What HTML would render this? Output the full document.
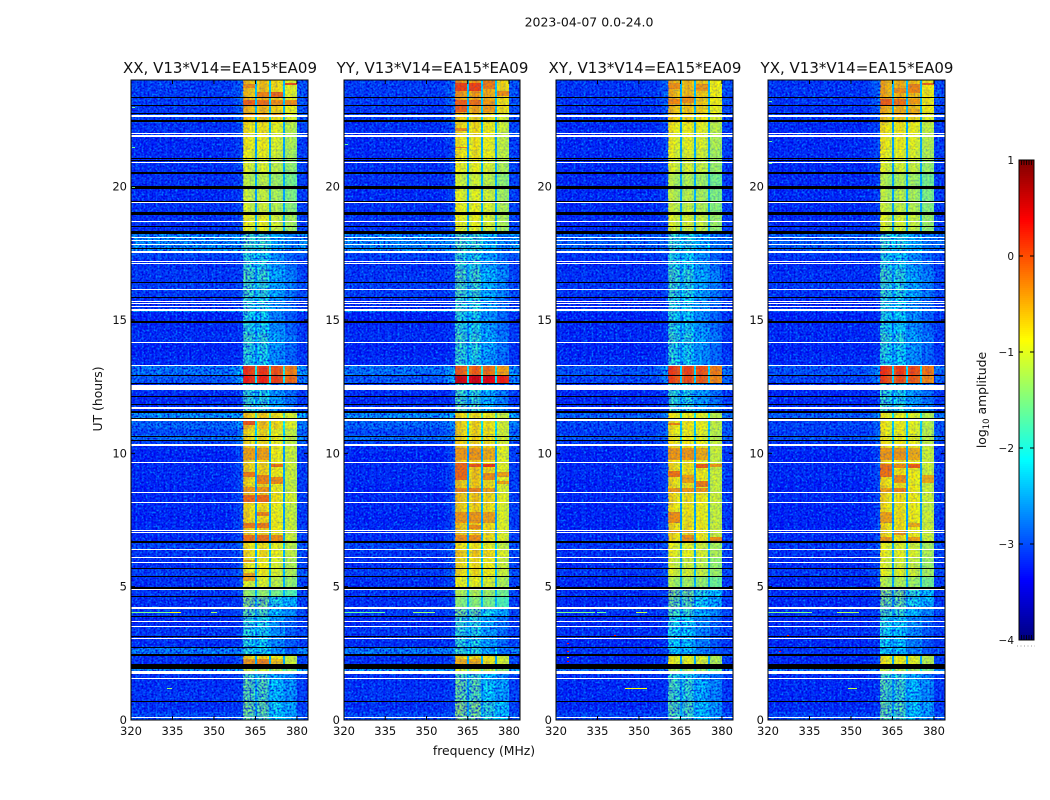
<!DOCTYPE html>
<html>
<head>
<meta charset="utf-8">
<title>2023-04-07 dynamic spectra</title>
<style>
html,body{margin:0;padding:0;background:#fff;}
svg{display:block;font-family:"DejaVu Sans","Liberation Sans",sans-serif;fill:#111;}
.tick{font-size:11.5px;}
.title{font-size:15px;}
.lab{font-size:12.4px;}
</style>
</head>
<body>
<svg id="chart" xmlns="http://www.w3.org/2000/svg" width="1050" height="800" viewBox="0 0 1050 800">
  <defs>
    <filter id="speck-light" x="0" y="0" width="100%" height="100%" color-interpolation-filters="sRGB">
      <feTurbulence type="fractalNoise" baseFrequency="0.5" numOctaves="2" seed="4"/>
      <feColorMatrix type="matrix" values="0 0 0 0 0  0 0 0 0 0.55  0 0 0 0 1  2.6 0 0 0 -1.08"/>
    </filter>
    <filter id="speck-dark" x="0" y="0" width="100%" height="100%" color-interpolation-filters="sRGB">
      <feTurbulence type="fractalNoise" baseFrequency="0.5" numOctaves="2" seed="11"/>
      <feColorMatrix type="matrix" values="0 0 0 0 0  0 0 0 0 0  0 0 0 0 0.85  0 2.8 0 0 -1.1"/>
    </filter>
  </defs>
  <text x="589" y="26.5" text-anchor="middle" style="font-size:12.5px">2023-04-07 0.0-24.0</text>
  <text transform="translate(102,399) rotate(-90)" text-anchor="middle" class="lab">UT (hours)</text>
  <text x="484" y="755" text-anchor="middle" class="lab">frequency (MHz)</text>
  <text transform="translate(986,400) rotate(-90)" text-anchor="middle" class="lab">log<tspan dy="3" style="font-size:8.5px">10</tspan><tspan dy="-3"> amplitude</tspan></text>
  <g id="panels"></g>
  <g id="colorbar"></g>
</svg>
<script>
// ---------- Data ----------
const panelNames = ["XX", "YY", "XY", "YX"];
const baselineLabel = "V13*V14=EA15*EA09";
const freqTicks = [320, 335, 350, 365, 380];
const hourTicks = [0, 5, 10, 15, 20];
const colorTicks = [1, 0, -1, -2, -3, -4];

// Start hour of each time row (the last row ends at 24 h)
const rowStart = [
 0.00,0.30,0.70,1.10,1.50,1.75,1.90,2.00,2.20,2.40,
 2.70,3.10,3.50,3.90,4.20,4.65,4.90,5.40,5.70,6.10,
 6.40,6.65,7.00,7.40,7.80,8.10,8.50,8.80,9.00,9.40,
 9.65,10.00,10.30,10.50,10.70,10.90,11.25,11.55,11.90,12.20,
 12.60,12.90,13.30,13.70,14.10,14.50,14.90,15.30,15.40,15.85,
 16.40,16.90,17.30,17.55,18.24,18.50,18.95,19.40,19.90,20.50,
 20.95,21.40,21.90,22.40,22.75,23.05,23.35,23.70];

// log10 amplitude outside the observing band, parallel and cross hands
const bgParallel = [
 -2.95,-3.15,-3.1,-3.15,-3.1,-2.45,-3.1,-3.15,-3.15,-2.6,
 -3.15,-3.1,-3.2,-3.05,-3.15,-3.1,-3.15,-3.05,-3.15,-3.1,
 -3.0,-3.2,-3.2,-3.25,-3.2,-3.2,-3.25,-3.2,-3.2,-3.2,
 -3.25,-3.2,-3.0,-2.7,-2.95,-2.75,-2.45,-3.15,-3.2,-3.15,
 -2.85,-2.65,-3.2,-3.25,-3.15,-3.2,-3.25,-2.4,-3.15,-3.05,
 -3.1,-3.15,-3.0,-2.5,-3.15,-3.15,-3.15,-3.2,-3.15,-3.15,
 -3.2,-3.2,-3.15,-3.05,-3.1,-3.05,-3.05,-3.05];
const bgCross = [
 -3.0,-3.2,-3.2,-3.2,-3.15,-2.7,-3.15,-3.2,-3.2,-3.1,
 -3.2,-3.15,-3.2,-3.1,-3.2,-3.15,-3.2,-3.1,-3.2,-3.15,
 -3.1,-3.2,-3.25,-3.25,-3.25,-3.2,-3.25,-3.25,-3.2,-3.2,
 -3.25,-3.2,-3.1,-2.9,-3.05,-3.0,-2.8,-3.2,-3.2,-3.2,
 -3.0,-2.9,-3.2,-3.25,-3.2,-3.2,-3.25,-2.8,-3.2,-3.1,
 -3.15,-3.2,-3.1,-2.8,-3.2,-3.2,-3.2,-3.2,-3.2,-3.2,
 -3.2,-3.2,-3.2,-3.1,-3.15,-3.1,-3.1,-3.1];

// log10 amplitude inside the observing band, per row and polarisation
const bandXX = [
 -1.75,-1.7,-1.85,-1.8,-1.95,-1.2,-1.0,-0.8,-0.8,-2.15,
 -2.2,-2.15,-2.1,-1.85,-1.6,-1.45,-1.1,-0.95,-0.95,-0.85,
 -0.9,-0.8,-0.8,-0.82,-0.85,-0.75,-0.82,-0.85,-0.8,-0.8,
 -0.82,-0.8,-0.85,-0.85,-0.85,-0.7,-0.75,-2.0,-2.05,-2.1,
 0.1,0.0,-2.15,-2.1,-2.0,-2.15,-2.2,-2.0,-2.1,-2.0,
 -1.95,-2.1,-2.15,-1.95,-1.05,-1.0,-1.15,-1.2,-1.25,-1.1,
 -1.0,-0.95,-0.9,-0.75,-0.65,-0.65,-0.7,-0.7];
const bandYY = [
 -1.6,-1.55,-1.8,-1.75,-1.9,-1.15,-1.0,-0.8,-0.8,-2.05,
 -2.1,-2.1,-2.05,-1.7,-1.5,-1.3,-1.0,-0.85,-0.85,-0.75,
 -0.9,-0.75,-0.75,-0.75,-0.78,-0.72,-0.75,-0.75,-0.72,-0.72,
 -0.75,-0.72,-0.78,-0.8,-0.8,-0.8,-0.85,-1.9,-2.0,-2.0,
 0.45,-0.2,-2.1,-2.05,-2.0,-2.1,-2.15,-1.95,-2.05,-1.95,
 -1.9,-2.05,-2.1,-1.95,-1.05,-1.0,-1.0,-1.05,-1.15,-1.0,
 -0.9,-0.9,-0.85,-0.8,-0.55,-0.55,-0.5,-0.5];
const bandXY = [
 -1.9,-1.85,-2.0,-1.95,-2.1,-1.35,-1.15,-1.0,-1.0,-2.3,
 -2.3,-2.25,-2.2,-1.95,-1.75,-1.6,-1.35,-1.1,-1.15,-1.0,
 -1.05,-0.85,-0.85,-0.88,-0.9,-0.85,-0.88,-0.88,-0.85,-0.85,
 -0.88,-0.85,-0.9,-0.95,-0.95,-0.9,-0.95,-2.05,-2.1,-2.1,
 -0.1,-0.05,-2.15,-2.15,-2.05,-2.15,-2.2,-2.05,-2.15,-2.05,
 -2.0,-2.15,-2.2,-2.05,-1.15,-1.1,-1.2,-1.25,-1.3,-1.1,
 -1.05,-1.0,-0.95,-0.8,-0.7,-0.65,-0.65,-0.65];
const bandYX = [
 -1.85,-1.8,-1.95,-1.9,-2.0,-1.3,-1.1,-0.95,-0.95,-2.3,
 -2.3,-2.25,-2.2,-1.95,-1.7,-1.55,-1.3,-1.05,-1.1,-1.0,
 -1.05,-0.85,-0.85,-0.85,-0.88,-0.85,-0.85,-0.88,-0.85,-0.85,
 -0.85,-0.85,-0.9,-0.95,-0.95,-0.95,-0.98,-2.0,-2.1,-2.1,
 -0.1,0.0,-2.2,-2.15,-2.05,-2.2,-2.2,-2.05,-2.15,-2.05,
 -2.0,-2.15,-2.2,-2.05,-1.15,-1.1,-1.2,-1.25,-1.3,-1.1,
 -1.0,-0.95,-0.9,-0.75,-0.62,-0.6,-0.6,-0.6];

// Mean offset of each of the four 5 MHz sub-bands, per polarisation
const subOffsetXX = [0.05, 0.05, -0.05, -0.25];
const subOffsetYY = [0.05, 0.05, 0.0, -0.22];
const subOffsetXY = [0.05, 0.03, 0.0, -0.2];
const subOffsetYX = [0.05, 0.03, 0.0, -0.2];
// Extra sub-band shape seen only in the quiet (no source) hours
const quietOffset = [0.12, 0.04, -0.32, -0.4];
const subbandStart = [360.5, 365.6, 370.7, 375.8];
const subbandEnd = [364.75, 369.85, 374.95, 380.05];

// Brighter patches: polarisation, sub-band, start hour, end hour, log10 amplitude
const hotPatches = [
 [0,0,11.05,11.2,-0.05],[0,0,9.75,10.2,-0.45],[0,1,9.75,10.2,-0.45],[0,2,9.5,9.6,-0.2],[0,0,9.1,9.3,-0.25],[0,1,8.85,9.2,-0.3],
 [0,2,8.85,9.1,-0.35],[0,0,8.55,8.75,-0.4],[0,1,8.55,8.75,-0.4],[0,0,8.13,8.43,-0.15],[0,1,8.13,8.43,-0.15],[0,1,7.65,7.8,-0.3],
 [0,0,7.2,7.4,-0.25],[0,1,7.2,7.4,-0.25],[0,0,6.67,6.95,-0.2],[0,1,6.67,6.95,-0.2],[0,2,6.67,6.95,-0.35],
 [0,3,23.8,23.9,-0.05],[0,0,23.7,23.85,-0.35],[0,1,23.35,23.55,-0.3],[0,2,23.35,23.55,-0.15],[0,0,23.05,23.25,-0.1],[0,1,23.05,23.25,-0.2],
 [0,2,23.05,23.25,-0.35],[0,3,23.05,23.25,-0.35],[0,0,22.6,22.75,-0.35],[0,1,22.6,22.75,-0.35],[0,2,22.6,22.75,-0.4],
 [0,0,2.05,2.3,-0.4],[0,1,2.05,2.3,-0.3],[0,2,2.05,2.3,-0.6],[0,0,5.2,5.5,-0.45],[0,0,5.9,6.0,-0.45],
 [1,0,9.75,10.2,-0.4],[1,1,9.75,10.2,-0.4],[1,2,9.75,10.2,-0.5],[1,0,9.0,9.63,-0.15],[1,1,9.47,9.6,-0.05],[1,2,9.47,9.6,0.1],
 [1,2,9.0,9.25,-0.35],[1,3,9.1,9.3,-0.45],[1,3,8.85,8.95,-0.45],[1,0,8.55,8.7,-0.3],[1,1,8.55,8.7,-0.3],[1,2,8.55,8.7,-0.45],
 [1,0,7.4,7.8,-0.4],[1,1,7.4,7.8,-0.4],[1,2,7.4,7.8,-0.45],[1,1,7.15,7.3,-0.35],[1,0,6.67,6.94,-0.35],[1,1,6.67,6.94,-0.35],
 [1,0,23.6,23.9,0.05],[1,1,23.6,23.9,0.05],[1,2,23.65,23.95,-0.25],[1,3,23.4,23.6,-0.35],[1,0,22.8,23.25,-0.1],[1,1,23.05,23.25,-0.2],
 [1,2,22.8,23.25,-0.4],[1,0,22.1,22.2,-0.35],[1,0,21.45,21.5,-0.3],[1,0,2.05,2.3,-0.5],[1,1,2.05,2.3,-0.5],
 [2,0,11.05,11.15,-0.3],[2,0,9.75,10.2,-0.4],[2,1,9.75,10.2,-0.4],[2,2,9.75,10.2,-0.5],[2,2,9.45,9.6,-0.1],[2,3,9.5,9.6,-0.4],
 [2,0,9.1,9.35,-0.2],[2,2,8.75,8.95,-0.25],[2,1,8.9,9.2,-0.45],[2,0,8.55,8.7,-0.4],[2,1,8.55,8.7,-0.4],[2,2,8.55,8.7,-0.4],
 [2,0,7.4,7.8,-0.35],[2,0,7.0,7.12,-0.3],[2,1,7.0,7.12,-0.4],[2,1,6.67,6.95,-0.35],[2,3,6.67,6.85,-0.35],
 [2,0,23.65,23.9,-0.35],[2,1,23.15,23.4,-0.35],[2,2,23.6,23.85,-0.4],[2,0,23.1,23.3,-0.3],
 [3,0,9.75,10.2,-0.4],[3,1,9.75,10.2,-0.4],[3,2,9.75,10.2,-0.5],[3,0,9.1,9.6,-0.2],[3,1,9.45,9.6,-0.35],[3,2,9.45,9.6,-0.1],
 [3,1,8.9,9.2,-0.35],[3,3,8.9,9.2,-0.5],[3,1,8.55,8.7,-0.3],[3,0,8.55,8.7,-0.45],[3,0,7.4,7.8,-0.45],[3,2,7.25,7.4,-0.5],
 [3,1,6.95,7.1,-0.4],[3,0,6.67,6.85,-0.4],[3,2,6.67,6.85,-0.45],
 [3,0,23.05,23.3,-0.1],[3,1,23.05,23.3,-0.2],[3,2,23.1,23.3,-0.4],[3,2,23.5,23.85,-0.3],[3,1,23.5,23.7,-0.35],[3,3,23.8,23.9,-0.15],
 [3,1,22.7,22.9,-0.5],[3,2,22.7,22.9,-0.5]
];

// Per-channel bandpass structure (channel width 0.85 MHz, first channel at 319.7 MHz)
const channelOffset = [
  0.06,-0.04,0.08,0.02,-0.06,0.05,-0.08,0.03,0.07,-0.03,
 -0.07,0.04,0.09,-0.02,-0.05,0.06,0.02,-0.09,0.04,0.08,
 -0.04,0.01,-0.07,0.05,0.03,-0.06,0.07,-0.02,0.04,-0.08,
  0.03,0.06,-0.05,0.02,-0.03,0.08,-0.06,0.04,0.01,-0.07,
  0.05,0.02,-0.04,0.06,0.03,0.05,0.08,0.12,
  0.1,0.12,0.05,0.0,-0.04,-0.02,
 -0.08,0.05,0.1,0.06,-0.06,0.04,
 -0.02,0.06,0.03,-0.04,-0.06,0.0,
 -0.04,0.02,0.04,-0.03,-0.08,
  0.1,0.14,0.12,0.1,0.12,0.08];
const channelShoulder = [
 0,0,0,0,0,0,0,0,0,0, 0,0,0,0,0,0,0,0,0,0,
 0,0,0,0,0,0,0,0,0,0, 0,0,0,0,0,0,0,0,0,0,
 0,0,0.02,0.05,0.09,0.14,0.2,0.28,
 0,0,0,0,0,0, 0,0,0,0,0,0, 0,0,0,0,0,0, 0,0,0,0,0,
 0.1,0.08,0.06,0.05,0.04,0.04];

// Flagged (no data / zero) time ranges
const whiteFlagHour = [22.61,21.99,21.88,20.90,19.37,18.69,18.09,17.96,17.81,17.53,17.19,17.10,16.14,15.69,15.59,15.50,15.32,14.12,13.27,12.36,11.68,11.23,10.26,9.63,8.50,8.12,7.10,7.00,6.36,6.09,5.87,4.86,4.18,3.66,3.47,3.02,1.72,1.52,0.09];
const whiteFlagSpan = [0.07,0.04,0.04,0.04,0.04,0.04,0.04,0.04,0.04,0.04,0.04,0.04,0.04,0.04,0.04,0.04,0.08,0.04,0.04,0.22,0.04,0.04,0.1,0.04,0.04,0.04,0.04,0.04,0.04,0.04,0.04,0.04,0.04,0.04,0.04,0.04,0.1,0.04,0.04];
const blackFlagHour = [23.33,23.04,22.74,22.42,21.05,20.98,20.49,19.93,19.42,18.95,18.48,18.24,17.65,16.40,15.82,14.90,12.90,12.60,12.13,11.83,11.51,11.27,10.60,10.48,6.62,5.68,5.38,4.93,4.63,3.88,3.13,2.69,2.39,1.91,0.66];
const blackFlagSpan = [0.035,0.035,0.035,0.09,0.035,0.035,0.07,0.09,0.035,0.09,0.035,0.1,0.05,0.035,0.035,0.06,0.035,0.035,0.035,0.035,0.09,0.06,0.035,0.035,0.11,0.035,0.035,0.06,0.035,0.035,0.035,0.035,0.07,0.18,0.035];

// Narrow-band interference: polarisation index, hour, start and end MHz, level
const rfiPanel = [0,0,0,0,1,1,2,2,2,2,3,3,3,2,2,2,2,2,3,3,0,0,0,1,3,3,3];
const rfiHour  = [4.06,4.06,4.06,1.2,4.06,4.06,4.06,4.06,4.06,1.2,4.06,4.06,1.2,3.2,2.2,2.35,2.9,2.6,2.6,3.2,23.0,21.5,20.0,21.6,23.2,21.7,20.9];
const rfiFrom  = [320,334,349,333,320,345,320,335,349,345,320,345,349,341,324,324,324,324,324,327,320.5,320.5,320.5,320.5,320.5,320.5,320.5];
const rfiTo    = [334,338,351,335,335,353,334,338,353,353,336,353,352,341.7,324.7,324.7,324.7,324.7,324.7,327.7,321.5,321.5,321.5,321.5,321.5,321.5,321.5];
const rfiLevel = [-1.5,-0.9,-1.3,-1.4,-1.6,-1.4,-1.5,-1.6,-1.2,-0.9,-1.5,-1.3,-1.2,0.3,0.4,-1,0.3,0.3,0.3,0.2,-1.6,-1.6,-1.6,-1.6,-1.6,-1.6,-1.6];

// Colour scale limits
const colorMin = -4, colorMax = 1;

// ---------- Geometry and scales ----------
const SVGNS = "http://www.w3.org/2000/svg";
const panelLeft = [131, 344, 556, 768];
const panelRight = [308, 520, 733, 945];
const plotTop = 80, plotBottom = 720;
const freqMin = 320, freqMax = 384, hourMin = 0, hourMax = 24;
const channelWidth = 0.85, channelFirst = 319.7;
const quietLimit = -1.5;
const panelBands = [bandXX, bandYY, bandXY, bandYX];
const panelSubs = [subOffsetXX, subOffsetYY, subOffsetXY, subOffsetYX];
const panelBgs = [bgParallel, bgParallel, bgCross, bgCross];

function xScale(p, f){ return panelLeft[p] + (f - freqMin) * (panelRight[p] - panelLeft[p]) / (freqMax - freqMin); }
function yScale(h){ return plotBottom - (h - hourMin) * (plotBottom - plotTop) / (hourMax - hourMin); }
function cScale(v){ return 640 - (v - colorMin) * 480 / (colorMax - colorMin); }

function jet(v){
  const t = Math.max(0, Math.min(1, (v - colorMin) / (colorMax - colorMin)));
  const ramp = (x) => Math.max(0, Math.min(1, x));
  const r = ramp(Math.min(4 * t - 1.5, -4 * t + 4.5));
  const g = ramp(Math.min(4 * t - 0.5, -4 * t + 3.5));
  const b = ramp(Math.min(4 * t + 0.5, -4 * t + 2.5));
  return "rgb(" + Math.round(r * 255) + "," + Math.round(g * 255) + "," + Math.round(b * 255) + ")";
}

function make(parent, tag, attrs){
  const el = document.createElementNS(SVGNS, tag);
  for (const k in attrs) el.setAttribute(k, attrs[k]);
  parent.appendChild(el);
  return el;
}

function cellValue(p, r, k){
  const f = channelFirst + (k + 0.5) * channelWidth;
  const bg = panelBgs[p][r];
  const band = panelBands[p][r];
  for (let j = 0; j < subbandStart.length; j++) {
    if (f >= subbandStart[j] && f < subbandEnd[j]) {
      const quiet = band < quietLimit ? quietOffset[j] : 0;
      return band + panelSubs[p][j] + quiet + channelOffset[k];
    }
  }
  if (f >= subbandStart[0] && f < subbandEnd[3]) return Math.min(band, bg + 0.7) + channelOffset[k];
  return bg + channelOffset[k] + channelShoulder[k] * Math.max(0, band + 1.6);
}

const panelsRoot = document.getElementById("panels");

panelNames.forEach(function(name, p){
  const L = panelLeft[p], R = panelRight[p];
  const g = make(panelsRoot, "g", {});
  
  

  const clip = make(g, "clipPath", {id: "clip-" + p});
  make(clip, "rect", {x: L, y: plotTop, width: R - L, height: plotBottom - plotTop});

  const cells = make(g, "g", {"clip-path": "url(#clip-" + p + ")", "shape-rendering": "crispEdges"});
  
  

  for (let r = 0; r < rowStart.length; r++) {
    const rowEnd = r + 1 < rowStart.length ? rowStart[r + 1] : hourMax;
    const y0 = Math.round(yScale(rowEnd)), y1 = Math.round(yScale(rowStart[r]));
    for (let k = 0; k < channelOffset.length; k++) {
      const fa = channelFirst + k * channelWidth;
      const x0 = Math.round(xScale(p, fa)), x1 = Math.round(xScale(p, fa + channelWidth));
      const c = make(cells, "rect", {x: x0, y: y0, width: x1 - x0, height: y1 - y0, fill: jet(cellValue(p, r, k))});
      
      
    }
  }

  hotPatches.forEach(function(patch){
    if (patch[0] !== p) return;
    const xa = Math.round(xScale(p, subbandStart[patch[1]])), xb = Math.round(xScale(p, subbandEnd[patch[1]]));
    const ya = Math.round(yScale(patch[3])), yb = Math.round(yScale(patch[2]));
    const hp = make(cells, "rect", {x: xa, y: ya, width: xb - xa, height: Math.max(1, yb - ya), fill: jet(patch[4])});
    
    
  });

  // Decorative speckle only: approximates receiver noise, carries no values.
  // Full strength off-band, weak across the bright band, stronger in quiet hours.
  const bandL = xScale(p, subbandStart[0]), bandR = xScale(p, subbandEnd[3]);
  const zones = [[L, bandL, plotTop, plotBottom, 1], [bandR, R, plotTop, plotBottom, 1]];
  for (let r = 0; r < rowStart.length; r++) {
    const rowEnd = r + 1 < rowStart.length ? rowStart[r + 1] : hourMax;
    zones.push([bandL, bandR, yScale(rowEnd), yScale(rowStart[r]), panelBands[p][r] < quietLimit ? 0.8 : 0.22]);
  }
  zones.forEach(function(zone){
    const light = make(g, "rect", {x: zone[0], y: zone[2], width: zone[1] - zone[0], height: zone[3] - zone[2], filter: "url(#speck-light)", opacity: zone[4]});
    
    
    const dark = make(g, "rect", {x: zone[0], y: zone[2], width: zone[1] - zone[0], height: zone[3] - zone[2], filter: "url(#speck-dark)", opacity: zone[4]});
    
    
  });

  const flags = make(g, "g", {"shape-rendering": "crispEdges"});
  
  
  whiteFlagHour.forEach(function(h, i){
    const y0 = Math.round(yScale(h + whiteFlagSpan[i]));
    const y1 = Math.max(y0 + 1, Math.round(yScale(h)));
    const w = make(flags, "rect", {x: L, y: y0, width: R - L, height: y1 - y0, fill: "#fff"});
    
    
  });
  blackFlagHour.forEach(function(h, i){
    const y0 = Math.round(yScale(h + blackFlagSpan[i]));
    const y1 = Math.max(y0 + 1, Math.round(yScale(h)));
    const b = make(flags, "rect", {x: L, y: y0, width: R - L, height: y1 - y0, fill: "#000"});
    
    
  });

  rfiHour.forEach(function(h, i){
    if (rfiPanel[i] !== p) return;
    const xa = Math.round(xScale(p, rfiFrom[i])), xb = Math.round(xScale(p, rfiTo[i]));
    const s = make(flags, "rect", {x: xa, y: Math.round(yScale(h)), width: Math.max(1, xb - xa), height: 1, fill: jet(rfiLevel[i])});
    
    
  });

  const frame = make(g, "rect", {x: L, y: plotTop, width: R - L, height: plotBottom - plotTop, fill: "none", stroke: "#000", "stroke-width": 1});
  
  

  freqTicks.forEach(function(f){
    const x = xScale(p, f);
    const t1 = make(g, "line", {x1: x, x2: x, y1: plotBottom, y2: plotBottom - 4, stroke: "#000"});
    
    
    const t2 = make(g, "line", {x1: x, x2: x, y1: plotTop, y2: plotTop + 4, stroke: "#000"});
    
    
    const lb = make(g, "text", {x: x, y: 735, "text-anchor": "middle", "class": "tick"});
    lb.textContent = String(f);
    
    
  });
  hourTicks.forEach(function(h){
    const y = yScale(h);
    const t1 = make(g, "line", {x1: L, x2: L + 4, y1: y, y2: y, stroke: "#000"});
    
    
    const t2 = make(g, "line", {x1: R, x2: R - 4, y1: y, y2: y, stroke: "#000"});
    
    
    const lb = make(g, "text", {x: L - 4, y: y + 4, "text-anchor": "end", "class": "tick"});
    lb.textContent = String(h);
    
    
  });

  const title = make(g, "text", {x: (L + R) / 2 + 0.5, y: 73, "text-anchor": "middle", "class": "title"});
  title.textContent = name + ", " + baselineLabel;
  
  
});

// ---------- Colour bar ----------
const cb = document.getElementById("colorbar");
const cbL = 1019, cbR = 1034;
const cbBar = make(cb, "g", {"shape-rendering": "crispEdges"});


for (let y = 160; y < 640; y += 2) {
  const v = colorMin + (640 - y - 1) * (colorMax - colorMin) / 480;
  make(cbBar, "rect", {x: cbL, y: y, width: cbR - cbL, height: 2, fill: jet(v)});
}
const cbFrame = make(cb, "rect", {x: cbL, y: 160, width: cbR - cbL, height: 480, fill: "none", stroke: "#000", "stroke-width": 1});


colorTicks.forEach(function(v){
  const y = cScale(v);
  if (v > colorMin && v < colorMax) {
    make(cb, "line", {x1: cbL, x2: cbL + 4, y1: y, y2: y, stroke: "#000"});
    make(cb, "line", {x1: cbR, x2: cbR - 4, y1: y, y2: y, stroke: "#000"});
  } else {
    for (let x = cbL + 2.5; x < cbR; x += 2.5) {
      make(cb, "line", {x1: x, x2: x, y1: y, y2: v === colorMin ? y - 5 : y + 5, stroke: "#000", "stroke-width": 0.8});
    }
  }
  const lb = make(cb, "text", {x: 1014, y: y + 4, "text-anchor": "end", "class": "tick", style: "font-size:10.5px"});
  lb.textContent = String(v).replace("-", "\u2212");
  
  
});
const cbDots = make(cb, "line", {x1: 1017, x2: 1035, y1: 646, y2: 646, stroke: "#999", "stroke-width": 1, "stroke-dasharray": "1 2.5"});


</script>
</body>
</html>
